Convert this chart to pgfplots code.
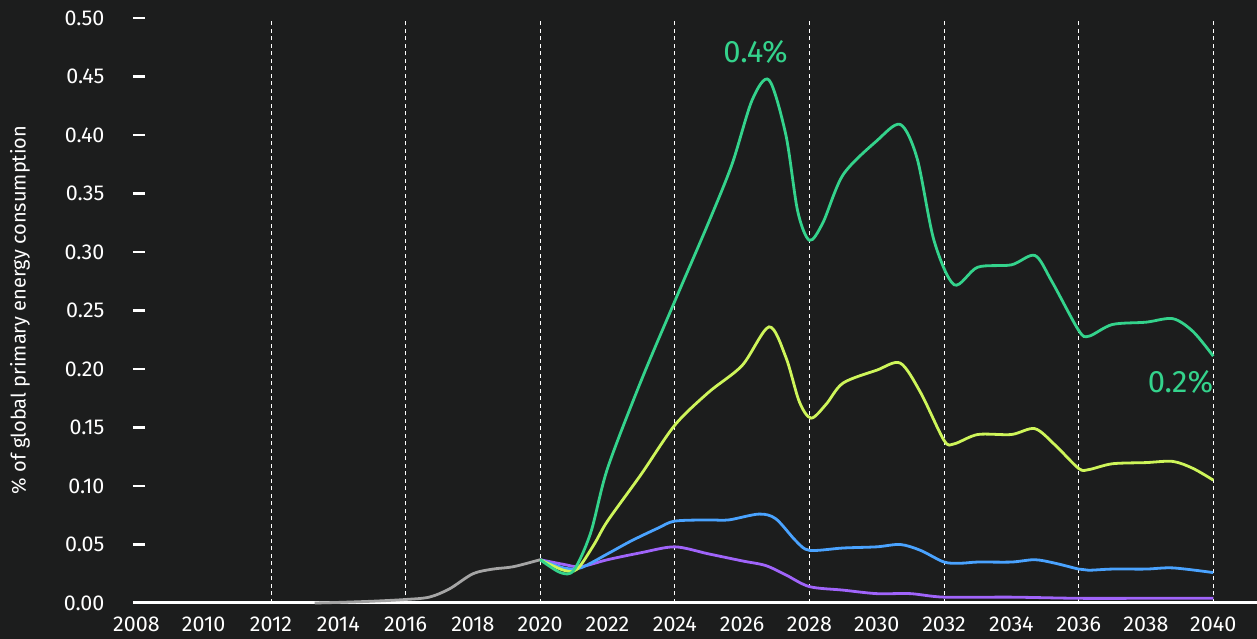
\documentclass[border=0pt]{standalone}
\usepackage{pgfplots}
\pgfplotsset{compat=1.18}
\usepackage{fontspec}
\setmainfont{Fira Sans}
\definecolor{bg}{RGB}{28,29,29}
\definecolor{cgreen}{RGB}{52,211,140}
\definecolor{cyellow}{RGB}{206,245,90}
\definecolor{cblue}{RGB}{74,163,255}
\definecolor{cpurple}{RGB}{160,100,250}
\definecolor{cgray}{RGB}{165,165,165}
\begin{document}
\begin{tikzpicture}
\fill[bg] (-133pt,-36pt) rectangle (1124pt,603pt);
\begin{axis}[
  at={(0pt,0pt)}, anchor=south west,
  scale only axis, width=1124pt, height=585pt,
  xmin=2007.9, xmax=2041.3, ymin=0, ymax=0.5,
  axis x line=bottom, axis y line=left,
  x axis line style={white, line width=3pt, -},
  y axis line style={draw=none},
  xtick={2008,2010,...,2040},
  ytick={0,0.05,...,0.51},
  major x tick style={draw=none},
  major y tick style={white, line width=2.5pt},
  tick align=inside,
  major tick length=12pt,
  extra x ticks={2012,2016,...,2040},
  extra x tick labels={},
  extra x tick style={grid=major, major x tick style={draw=none}},
  major grid style={white, line width=0.9pt, dash pattern=on 4pt off 3.5pt},
  /pgf/number format/assume math mode=true,
  xticklabel style={font=\fontsize{21.5}{24}\selectfont, text=white, /pgf/number format/1000 sep={}, yshift=-10.5pt},
  yticklabel style={font=\fontsize{21.5}{24}\selectfont, text=white, /pgf/number format/.cd, fixed, fixed zerofill, precision=2, /tikz/.cd, xshift=-25pt},
  clip=false,
  every axis plot/.append style={line width=2.8pt, smooth, no markers},
]
\addplot[cgray] coordinates {(2013.3,0) (2014,0.0005) (2015,0.0015) (2016,0.003) (2016.7,0.005) (2017.3,0.012) (2018,0.025) (2018.6,0.029) (2019.2,0.031) (2020,0.037)};
\addplot[cpurple] coordinates {(2020,0.037) (2020.7,0.033) (2021.2,0.031) (2022,0.037) (2023,0.043) (2024,0.048) (2025,0.042) (2026,0.036) (2026.7,0.032) (2027.3,0.024) (2028,0.014) (2029,0.011) (2030,0.008) (2031,0.008) (2032,0.005) (2034,0.005) (2036,0.004) (2038,0.004) (2040,0.004)};
\addplot[cblue] coordinates {(2020,0.037) (2020.7,0.030) (2021.2,0.030) (2022,0.042) (2022.7,0.053) (2023.5,0.064) (2024,0.070) (2025,0.071) (2025.6,0.071) (2026.5,0.076) (2027,0.072) (2027.6,0.053) (2028,0.045) (2029,0.047) (2030,0.048) (2030.7,0.050) (2031.3,0.045) (2032,0.035) (2032.5,0.034) (2033,0.035) (2034,0.035) (2034.7,0.037) (2035.3,0.034) (2036,0.029) (2036.3,0.028) (2037,0.029) (2038,0.029) (2038.8,0.030) (2040,0.026)};
\addplot[cyellow] coordinates {(2020,0.037) (2020.7,0.028) (2021.1,0.029) (2021.6,0.050) (2022,0.070) (2023,0.110) (2024,0.152) (2025,0.180) (2026,0.203) (2026.8,0.236) (2027.3,0.210) (2027.7,0.172) (2028.05,0.158) (2028.5,0.170) (2029,0.188) (2030,0.199) (2030.7,0.205) (2031.3,0.180) (2032,0.139) (2032.3,0.136) (2033,0.144) (2034,0.144) (2034.7,0.149) (2035.3,0.135) (2036,0.115) (2036.3,0.114) (2037,0.119) (2038,0.120) (2038.8,0.121) (2039.4,0.115) (2040,0.105)};
\addplot[cgreen] coordinates {(2020,0.037) (2020.6,0.026) (2021.0,0.028) (2021.5,0.060) (2022,0.115) (2023,0.190) (2024,0.258) (2025,0.325) (2025.7,0.375) (2026.3,0.430) (2026.8,0.447) (2027.3,0.400) (2027.65,0.335) (2028.0,0.310) (2028.4,0.325) (2029,0.366) (2030,0.395) (2030.7,0.409) (2031.2,0.380) (2031.7,0.310) (2032.3,0.272) (2033,0.287) (2034,0.289) (2034.7,0.297) (2035.2,0.275) (2036,0.233) (2036.3,0.228) (2037,0.238) (2038,0.240) (2038.8,0.243) (2039.4,0.232) (2040,0.211)};
\node[text=cgreen, font=\fontsize{31}{36}\selectfont] at (axis cs:2026.4,0.471) {0.4\%};
\node[text=cgreen, font=\fontsize{31}{36}\selectfont, anchor=east, inner sep=0pt] at (axis cs:2040,0.189) {0.2\%};
\end{axis}
\node[rotate=90, text=white, font=\fontsize{20}{24}\selectfont] at (-113pt,293pt) {\% of global primary energy consumption};
\pgfresetboundingbox
\useasboundingbox (-133pt,-36pt) rectangle (1124pt,603pt);
\end{tikzpicture}
\end{document}
